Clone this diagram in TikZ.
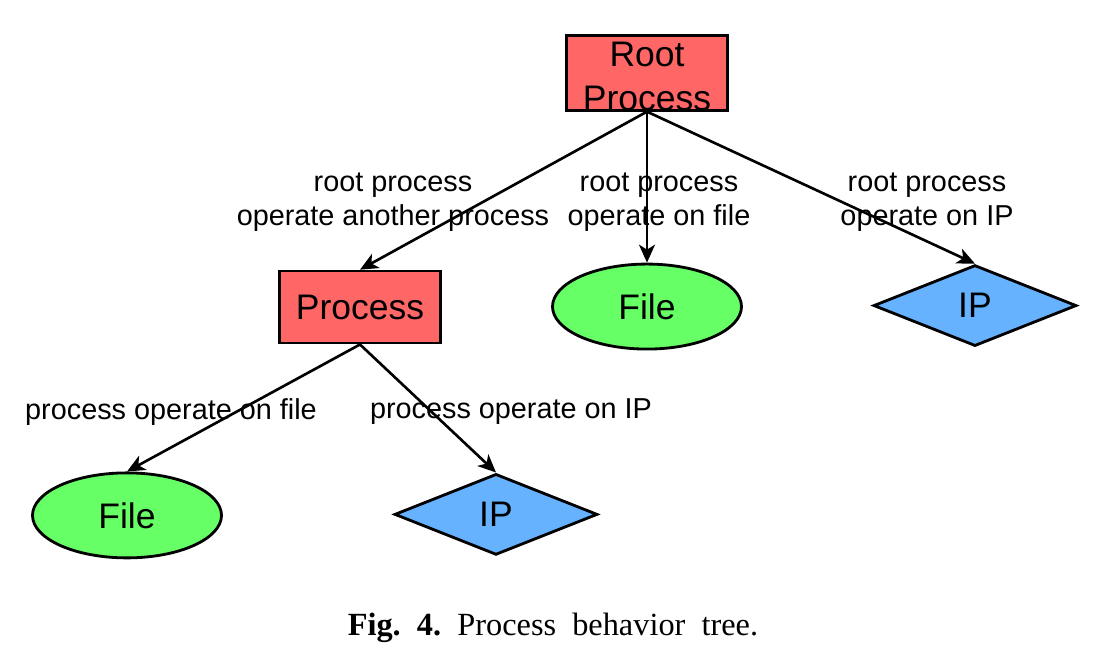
\documentclass[tikz,border=0pt]{standalone}
\usepackage{fontspec}
\setmainfont{Liberation Sans}
\newfontfamily\capfont{Liberation Serif}
\usepackage{tikz}
\usetikzlibrary{arrows.meta,positioning,shapes.geometric}
\definecolor{procred}{RGB}{255,102,102}
\definecolor{filegreen}{RGB}{102,255,102}
\definecolor{ipblue}{RGB}{102,178,255}

\begin{document}
\begin{tikzpicture}[
  proc/.style={draw, line width=1.6pt, fill=procred, minimum width=3.22cm, minimum height=1.44cm, inner sep=0pt, align=center, font=\fontsize{20.2}{25}\selectfont},
  filenode/.style={draw, ellipse, line width=1.6pt, fill=filegreen, minimum width=3.78cm, minimum height=1.7cm, inner sep=0pt, font=\fontsize{20.2}{25}\selectfont},
  ipnode/.style={draw, diamond, line width=1.6pt, fill=ipblue, minimum width=4.06cm, minimum height=1.62cm, inner sep=0pt, font=\fontsize{20.2}{25}\selectfont},
  lbl/.style={align=center, inner sep=0pt, font=\fontsize{16.4}{19.4}\selectfont},
  arr/.style={-{Stealth[length=3.6mm, width=3.2mm, inset=1mm]}, line width=1.5pt}
]
  \useasboundingbox (-12.94,1.46) rectangle (9.32,-11.58);

  \node[proc, text height=1.49cm, text depth=-0.06cm] (root) at (0,0) {Root\\Process};

  \node[proc, below=3.16cm of root, xshift=-5.74cm] (proc) {Process};
  \node[filenode, below=3.02cm of root] (file1) {File};
  \node[ipnode, below=3.04cm of root, xshift=6.56cm] (ip1) {IP};

  \node[filenode, below=2.54cm of proc, xshift=-4.66cm] (file2) {File};
  \node[ipnode, below=2.56cm of proc, xshift=2.72cm] (ip2) {IP};

  % edge labels
  \node[lbl] (l1) at (-5.08,-2.58) {root process\\operate another process};
  \node[lbl] (l2) at (0.24,-2.58) {root process\\operate on file};
  \node[lbl] (l3) at (5.6,-2.58) {root process\\operate on IP};
  \node[lbl] (l4) at (-9.52,-6.78) {process operate on file};
  \node[lbl] (l5) at (-2.72,-6.78) {process operate on IP};

  \draw[arr] (root.south) -- (proc.north);
  \draw[arr] (root.south) -- (file1.north);
  \draw[arr] (root.south) -- (ip1.north);
  \draw[arr] (proc.south) -- (file2.north);
  \draw[arr] (proc.south) -- (ip2.north);

  \node[font=\capfont\fontsize{18.4}{22}\selectfont] (cap) at (-1.88,-11.1) {\textbf{Fig.\ \ 4.}\ \ Process\ \ behavior\ \ tree.};
\end{tikzpicture}
\end{document}
